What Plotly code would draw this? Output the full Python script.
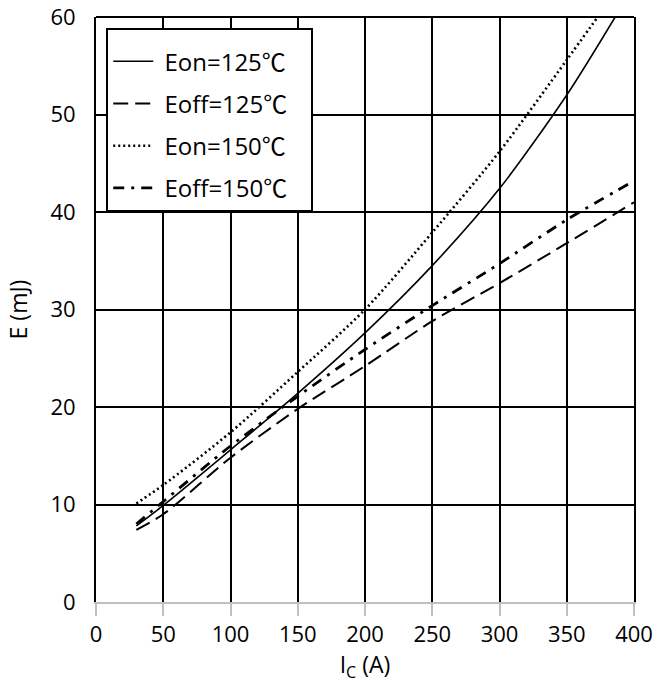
import plotly.graph_objects as go

# Data
ic_eon125 = [30, 50, 100, 150, 200, 250, 300, 350, 386]
e_eon125 = [7.8, 9.9, 15.6, 21.4, 27.6, 34.5, 42.4, 52.0, 60.0]

ic_eoff125 = [30, 50, 100, 150, 200, 250, 300, 350, 400]
e_eoff125 = [7.4, 9.0, 14.8, 19.8, 24.2, 28.8, 32.7, 36.8, 41.0]

ic_eon150 = [30, 50, 100, 150, 200, 250, 300, 350, 373]
e_eon150 = [10.1, 12.0, 17.4, 23.6, 30.0, 37.9, 46.2, 55.6, 60.0]

ic_eoff150 = [30, 50, 100, 150, 200, 250, 300, 350, 400]
e_eoff150 = [8.0, 10.3, 16.0, 21.1, 25.9, 30.4, 34.7, 39.2, 43.2]

names = ["Eon=125℃", "Eoff=125℃", "Eon=150℃", "Eoff=150℃"]
x_ticks = [0, 50, 100, 150, 200, 250, 300, 350, 400]
y_ticks = [0, 10, 20, 30, 40, 50, 60]

FONT = "Open Sans, Noto Sans CJK SC, sans-serif"

fig = go.Figure()
series = [
    (ic_eon125, e_eon125, names[0], dict(width=1.6, dash="solid")),
    (ic_eoff125, e_eoff125, names[1], dict(width=2, dash="15px,7px")),
    (ic_eon150, e_eon150, names[2], dict(width=2.6, dash="2px,3px")),
    (ic_eoff150, e_eoff150, names[3], dict(width=2.8, dash="11px,7px,3px,7px")),
]
for i, (x, y, n, ln) in enumerate(series):
    fig.add_trace(go.Scatter(
        x=x, y=y, name="\u00a0" + n + "\u00a0" * 3, mode="lines",
        line=dict(color="black", shape="spline", smoothing=0.8, **ln),
        legendgroup=f"g{i}",
    ))

fig.update_layout(
    width=657, height=699,
    margin=dict(l=96, r=23, t=17, b=97),
    paper_bgcolor="white", plot_bgcolor="white",
    font=dict(family=FONT, color="black", size=21),
    showlegend=True,
    legend=dict(
        x=0.019, y=0.981, xanchor="left", yanchor="top",
        bgcolor="white", bordercolor="black", borderwidth=2,
        font=dict(family=FONT, size=24, color="black"),
        tracegroupgap=8, itemwidth=40,
        title=dict(text="\u00a0", font=dict(size=7)),
    ),
    xaxis=dict(
        range=[0, 400], tickvals=x_ticks, ticktext=[str(v) for v in x_ticks],
        showgrid=True, gridcolor="black", gridwidth=2,
        showline=True, linecolor="#c0c0c0", linewidth=2,
        ticks="outside", ticklen=12, tickcolor="#c0c0c0", tickwidth=2,
        zeroline=False, automargin=False,
        title=dict(text="I<sub>C</sub> (A)", font=dict(size=23), standoff=8),
        tickfont=dict(size=22),
    ),
    yaxis=dict(
        range=[0, 60], tickvals=y_ticks, ticktext=[str(v) for v in y_ticks],
        showgrid=True, gridcolor="black", gridwidth=2,
        showline=True, linecolor="black", linewidth=2, mirror=True,
        zeroline=False, ticks="", automargin=False,
        ticklabelstandoff=14,
        title=dict(text="E (mJ)", font=dict(size=23), standoff=16),
        tickfont=dict(size=22),
    ),
)
fig.add_shape(type="line", xref="paper", yref="paper", x0=0, x1=1, y0=1, y1=1,
              line=dict(color="black", width=2))

fig.write_html("out.html", config={"displayModeBar": False},
               post_script="document.body.style.margin='0';")
